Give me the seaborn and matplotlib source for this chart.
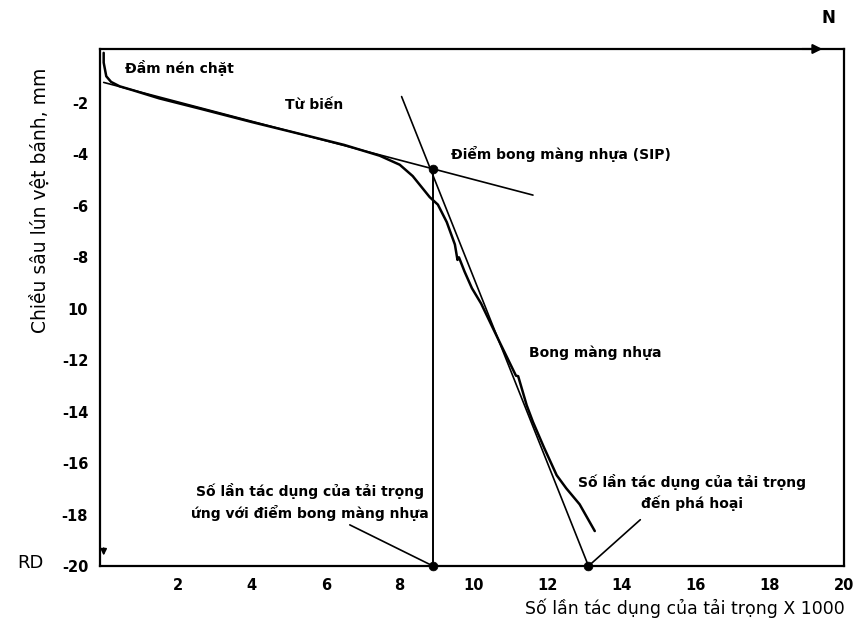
import matplotlib
matplotlib.use("Agg")
import matplotlib.pyplot as plt
import seaborn as sns
import pandas as pd

# ---- data ----
curve_x = [0.0, 0.0, 0.07, 0.2, 0.43, 0.78, 1.5, 2.6, 4.0, 5.3, 6.5, 7.46, 8.0, 8.35,
           8.81, 9.03, 9.27, 9.49, 9.56, 9.6, 9.75, 9.95, 10.2, 10.7, 11.14, 11.2,
           11.43, 11.6, 11.9, 12.24, 12.5, 12.86, 13.27]
curve_y = [-0.05, -0.43, -0.96, -1.18, -1.35, -1.5, -1.82, -2.22, -2.74, -3.2, -3.63,
           -4.05, -4.4, -4.84, -5.66, -5.95, -6.63, -7.5, -8.1, -8.0, -8.55, -9.2,
           -9.8, -11.3, -12.6, -12.62, -13.75, -14.4, -15.4, -16.47, -16.98, -17.6,
           -18.64]

creep_x = [0.0, 11.6]
creep_y = [-1.2, -5.58]
strip_x = [8.05, 13.1]
strip_y = [-1.75, -20.0]
sip_x = [8.9, 8.9]
sip_y = [-4.55, -20.0]
dot_x = [8.9, 8.9, 13.1]
dot_y = [-4.55, -20.0, -20.0]

x_ticks = [2, 4, 6, 8, 10, 12, 14, 16, 18, 20]
y_ticks = [-2, -4, -6, -8, -10, -12, -14, -16, -18, -20]
y_tick_labels = ["-2", "-4", "-6", "-8", "10", "-12", "-14", "-16", "-18", "-20"]

sns.set_theme(style="white")
plt.rcParams["font.family"] = ["DejaVu Sans"]

fig = plt.figure(figsize=(8.56, 6.24), dpi=100)
ax = fig.add_axes([0.1168, 0.0929, 0.869, 0.8286])

df_curve = pd.DataFrame({"x": curve_x, "y": curve_y})
sns.lineplot(data=df_curve, x="x", y="y", ax=ax, color="black", lw=1.8,
             sort=False, estimator=None)
sns.lineplot(x=creep_x, y=creep_y, ax=ax, color="black", lw=1.2, sort=False, estimator=None)
sns.lineplot(x=strip_x, y=strip_y, ax=ax, color="black", lw=1.2, sort=False, estimator=None)
sns.lineplot(x=sip_x, y=sip_y, ax=ax, color="black", lw=1.4, sort=False, estimator=None)
sc = sns.scatterplot(x=dot_x, y=dot_y, ax=ax, color="black", s=40, zorder=5,
                     edgecolor="black", clip_on=False)

ax.set_xlim(-0.1, 20)
ax.set_ylim(-20, 0.1)
ax.set_xticks(x_ticks)
ax.set_yticks(y_ticks)
ax.set_yticklabels(y_tick_labels)
ax.tick_params(axis="both", direction="inout", length=9, width=1.3, colors="black",
               labelsize=10.5, pad=4)
for lab in ax.get_xticklabels() + ax.get_yticklabels():
    lab.set_fontweight("bold")
ax.set_xlabel("")
ax.set_ylabel("")
for s in ax.spines.values():
    s.set_color("black")
    s.set_linewidth(1.6)

# top axis arrow
ax.annotate("", xy=(0.975, 1.0), xytext=(0.94, 1.0), xycoords="axes fraction",
            arrowprops=dict(arrowstyle="-|>", color="black", lw=1.5, mutation_scale=14))
# small arrow at bottom-left
ax.annotate("", xy=(0.005, 0.015), xytext=(0.005, 0.04), xycoords="axes fraction",
            arrowprops=dict(arrowstyle="-|>", color="black", lw=1.2, mutation_scale=9))

tk = dict(fontsize=10, fontweight="bold", color="black")
ax.text(0.57, -0.62, "Đầm nén chặt", ha="left", va="center", **tk)
ax.text(4.9, -2.06, "Từ biến", ha="left", va="center", **tk)
ax.text(9.38, -4.0, "Điểm bong màng nhựa (SIP)", ha="left", va="center", **tk)
ax.text(11.5, -11.7, "Bong màng nhựa", ha="left", va="center", **tk)
ax.text(5.57, -17.5, "Số lần tác dụng của tải trọng\nứng với điểm bong màng nhựa",
        ha="center", va="center", linespacing=1.45, **tk)
ax.text(15.9, -17.15, "Số lần tác dụng của tải trọng\nđến phá hoại",
        ha="center", va="center", linespacing=1.45, **tk)
ax.plot([6.65, 8.9], [-18.4, -20.0], color="black", lw=1.2)
ax.plot([14.5, 13.1], [-18.2, -20.0], color="black", lw=1.2)

fig.text(40 / 856, 1 - 200 / 624, "Chiều sâu lún vệt bánh, mm", rotation=90,
         ha="center", va="center", fontsize=13.5, color="black")
fig.text(845 / 856, 1 - 608 / 624, "Số lần tác dụng của tải trọng X 1000",
         ha="right", va="center", fontsize=12.5, color="black")
fig.text(30 / 856, 1 - 563 / 624, "RD", ha="center", va="center", fontsize=13,
         color="black")
fig.text(828 / 856, 1 - 18 / 624, "N", ha="center", va="center", fontsize=12,
         fontweight="bold", color="black")

fig.savefig("out.png", dpi=100, facecolor="white")
